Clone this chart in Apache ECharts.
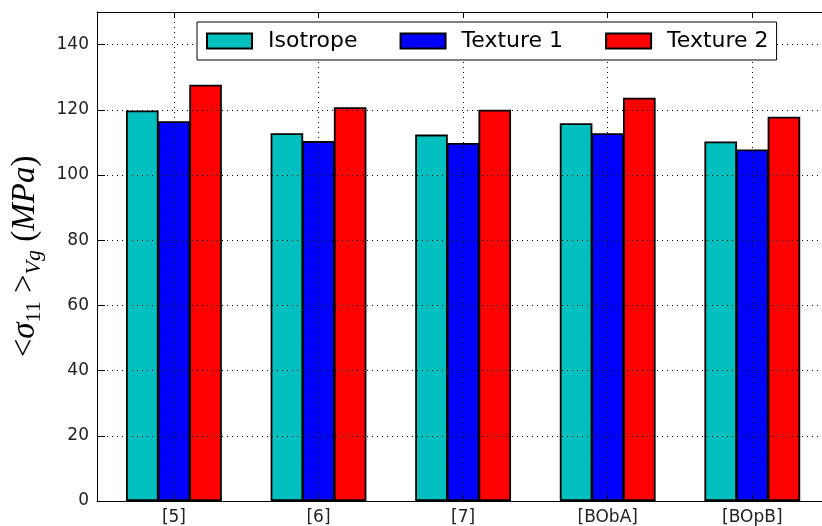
<!DOCTYPE html>
<html>
<head>
<meta charset="utf-8">
<script src="https://cdn.jsdelivr.net/npm/echarts@6/dist/echarts.min.js"></script>
<style>
  html, body { margin: 0; background: #fff; }
  #chart { width: 822px; height: 526px; }
</style>
</head>
<body>
<div id="chart"></div>
<script>
// values (MPa)
const categories = ['[5]', '[6]', '[7]', '[BObA]', '[BOpB]'];
const isotrope = [119.8, 112.8, 112.4, 115.9, 110.3];
const texture1 = [116.5, 110.4, 109.8, 112.8, 107.8];
const texture2 = [127.7, 120.8, 120.0, 123.7, 117.9];
const seriesNames = ['Isotrope', 'Texture 1', 'Texture 2'];
const seriesColors = ['#00bfbf', '#0000ff', '#ff0000'];
const positions = categories.map((_, i) => i);

const FONT = 'DejaVu Sans';
const MATH = 'Liberation Serif';
const dotted = { color: '#000', type: [1, 4], width: 1 };
// the plot runs off the right edge of the picture, like the original
const X_MIN = -0.532;
const X_MAX = 4.482;

const chart = echarts.init(document.getElementById('chart'), null, { renderer: 'canvas' });

// neighbouring bars share one edge line, so let them overlap a touch
function bars(name, values, color) {
  return {
    name,
    type: 'bar',
    data: values.map((v, i) => [positions[i], v]),
    barWidth: 32.6,
    barGap: '-3%',
    itemStyle: { color, borderColor: '#000', borderWidth: 1.8 },
  };
}

const mathText = { fontFamily: MATH, color: '#000', lineHeight: 40 };

chart.setOption({
  animation: false,
  backgroundColor: '#fff',
  grid: { left: 97, top: 12, bottom: 25, right: 0 },
  legend: {
    left: 197,
    top: 22,
    icon: 'rect',
    itemWidth: 45,
    itemHeight: 15,
    itemGap: 42,
    padding: [8, 8, 8, 9],
    borderColor: '#000',
    borderWidth: 1,
    backgroundColor: '#fff',
    textStyle: { fontSize: 22, fontFamily: FONT, color: '#000', padding: [0, 0, 0, 11] },
    data: seriesNames,
  },
  xAxis: [
    {
      type: 'value',
      min: X_MIN,
      max: X_MAX,
      z: 3,
      axisLine: { onZero: false, lineStyle: { color: '#000', width: 1 } },
      axisTick: { inside: true, length: 6, customValues: positions, lineStyle: { color: '#000' } },
      axisLabel: {
        customValues: positions,
        formatter: (v) => categories[Math.round(v)],
        fontFamily: FONT,
        fontSize: 17,
        color: '#222',
        margin: 8,
      },
      splitLine: { show: true, lineStyle: dotted },
    },
    {
      type: 'value',
      position: 'top',
      min: X_MIN,
      max: X_MAX,
      z: 3,
      axisLine: { onZero: false, lineStyle: { color: '#000', width: 1 } },
      axisTick: { inside: true, length: 6, customValues: positions, lineStyle: { color: '#000' } },
      axisLabel: { show: false },
      splitLine: { show: false },
    },
  ],
  yAxis: {
    type: 'value',
    min: 0,
    max: 150,
    interval: 20,
    z: 3,
    name: '{r|<}{m|σ}{d|11}{r| >}{s|Vg}{r| (}{m|MPa}{r|)}',
    nameLocation: 'middle',
    nameGap: 52,
    nameTextStyle: {
      rich: {
        r: { ...mathText, fontSize: 33, verticalAlign: 'middle' },
        m: { ...mathText, fontSize: 33, fontStyle: 'italic', verticalAlign: 'middle' },
        d: { ...mathText, fontSize: 22, verticalAlign: 'bottom' },
        s: { ...mathText, fontSize: 22, fontStyle: 'italic', verticalAlign: 'bottom' },
      },
    },
    axisLine: { show: true, onZero: false, lineStyle: { color: '#000', width: 1 } },
    axisTick: { show: true, inside: true, length: 8, lineStyle: { color: '#000' } },
    axisLabel: {
      fontFamily: FONT,
      fontSize: 17,
      color: '#222',
      margin: 8,
      showMaxLabel: false,
    },
    splitLine: { show: true, lineStyle: dotted },
  },
  series: [
    bars(seriesNames[0], isotrope, seriesColors[0]),
    bars(seriesNames[1], texture1, seriesColors[1]),
    bars(seriesNames[2], texture2, seriesColors[2]),
  ],
});
</script>
</body>
</html>
